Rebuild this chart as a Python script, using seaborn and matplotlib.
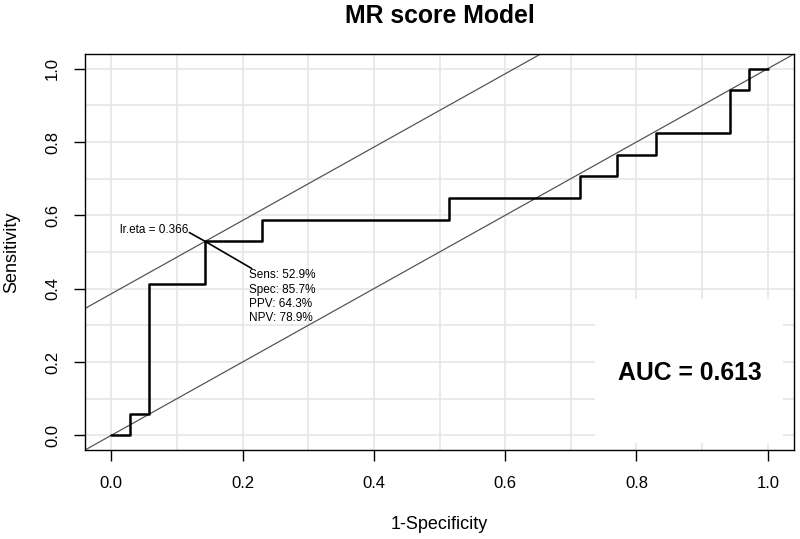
import matplotlib
matplotlib.use('Agg')
import matplotlib.pyplot as plt
import seaborn as sns
import pandas as pd
import numpy as np

# ROC points (1-specificity, sensitivity)
fpr = [0.0, 0.029, 0.057, 0.143, 0.229, 0.514, 0.714, 0.771, 0.829, 0.943, 0.971, 1.0]
tpr = [0.0, 0.059, 0.412, 0.529, 0.588, 0.647, 0.706, 0.765, 0.824, 0.941, 1.0, 1.0]

best_fpr = 0.143
best_tpr = 0.529
cutoff_label = "lr.eta = 0.366"
stats_lines = ["Sens: 52.9%", "Spec: 85.7%", "PPV: 64.3%", "NPV: 78.9%"]
auc_value = 0.613
title = "MR score Model"

sns.set_theme(style="white")
plt.rcParams['font.family'] = ['Liberation Sans', 'DejaVu Sans']
plt.rcParams['text.color'] = 'black'
plt.rcParams['axes.labelcolor'] = 'black'
plt.rcParams['xtick.color'] = 'black'
plt.rcParams['ytick.color'] = 'black'

df = pd.DataFrame({'fpr': fpr, 'tpr': tpr})

fig = plt.figure(figsize=(8, 5.39), dpi=100)
ax = fig.add_axes([0.10625, 0.1651, 0.8863, 0.7347])

ax.set_xlim(-0.04, 1.04)
ax.set_ylim(-0.04, 1.04)

# light grid every 0.1
for g in np.arange(0, 1.01, 0.1):
    ax.axvline(g, color='#e6e6e6', lw=1.2, zorder=0)
    ax.axhline(g, color='#e6e6e6', lw=1.2, zorder=0)

# white box behind the AUC text
ax.add_patch(plt.Rectangle((0.737, -0.022), 0.286, 0.395,
                           facecolor='white', edgecolor='none', zorder=1))

# chance line and tangent line through the optimal cut-off
c = best_tpr - best_fpr
xs = np.array([-0.1, 1.1])
ax.plot(xs, xs, color='#555555', lw=0.9, zorder=2)
ax.plot(xs, xs + c, color='#555555', lw=0.9, zorder=2)

sns.lineplot(data=df, x='fpr', y='tpr', ax=ax, color='black', lw=1.8,
             drawstyle='steps-post', sort=False, estimator=None, zorder=3)

# cut-off annotation
ax.plot([0.119, best_fpr, 0.214], [0.553, best_tpr, 0.455],
        color='black', lw=1.2, zorder=4)
ax.text(0.014, 0.561, cutoff_label, fontsize=8.5, va='center', ha='left', zorder=5)
for i, s in enumerate(stats_lines):
    ax.text(0.21, 0.436 - i * 0.039, s, fontsize=8.5, va='center', ha='left', zorder=5)

ax.text(0.882, 0.17, f"AUC = {auc_value:.3f}", fontsize=17.8, fontweight='bold',
        ha='center', va='center', zorder=5)

ticks = [0.0, 0.2, 0.4, 0.6, 0.8, 1.0]
ax.set_xticks(ticks)
ax.set_yticks(ticks)
ax.set_xticklabels([f"{t:.1f}" for t in ticks], fontsize=12)
ax.set_yticklabels([f"{t:.1f}" for t in ticks], fontsize=12, rotation=90, va='center')
ax.tick_params(axis='both', direction='out', length=8, width=1, color='black',
               bottom=True, left=True, pad=11)
ax.tick_params(axis='y', pad=10)

for sp in ax.spines.values():
    sp.set_color('black')
    sp.set_linewidth(1)

ax.set_xlabel("1-Specificity", fontsize=13, labelpad=18)
ax.set_ylabel("Sensitivity", fontsize=13, labelpad=18)
ax.set_title(title, fontsize=17.8, fontweight='bold', pad=22)

fig.savefig('out.png', dpi=100)
